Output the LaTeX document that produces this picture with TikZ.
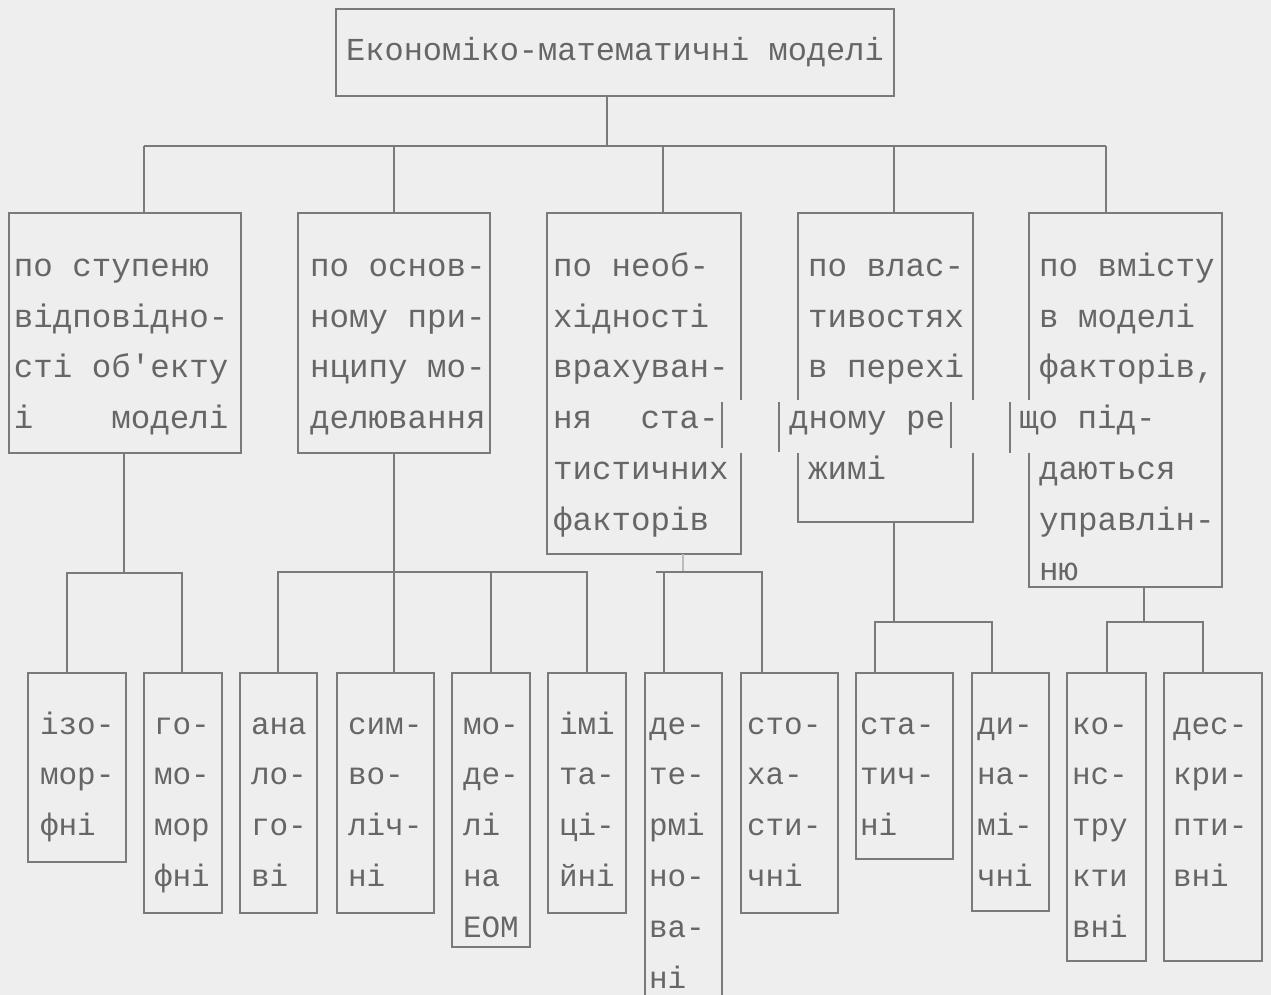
\documentclass[tikz,border=0pt]{standalone}
\usepackage{fontspec}
\setmainfont{Liberation Mono}
\usetikzlibrary{calc}

\definecolor{paper}{HTML}{EEEEEE}
\definecolor{ink}{HTML}{666666}
\definecolor{rulegray}{HTML}{7A7A7A}

\newcommand{\cellbox}[5]{\parbox[c][#2][t]{#1}{\setlength{\leftskip}{#3}\rule{0pt}{#4}#5}}

\begin{document}
\begin{tikzpicture}[x=1pt, y=-1pt,
    blk/.style={draw=rulegray, line width=2.6pt, anchor=north west, inner sep=0pt, outer sep=0pt, text=ink},
    lone/.style={blk, font=\fontsize{32.5}{50.7}\selectfont},
    ltwo/.style={blk, font=\fontsize{31}{50.8}\selectfont},
    open/.style={lone, draw=none},
    link/.style={draw=rulegray, line width=2.6pt}]
\path[use as bounding box, fill=paper] (0,0) rectangle (1271,995);
\clip (0,0) rectangle (1271,995);

\node[blk, minimum width=558pt, minimum height=87pt, font=\fontsize{32}{38}\selectfont] (root) at (336,9) {Економіко-математичні моделі};

\node[lone] (b1) at (9,213) {\cellbox{232pt}{240pt}{5pt}{63.5pt}{по ступеню\\відповідно-\\сті об\textquotesingle екту\\і\hspace*{2.4em}моделі}};
\node[lone] (b2) at (298,213) {\cellbox{192pt}{240pt}{12pt}{63.5pt}{по основ-\\ному при-\\нципу мо-\\делювання}};
\node[open] (b3) at (547,213) {\cellbox{194pt}{341pt}{6pt}{63.5pt}{по необ-\\хідності\\врахуван-\\ня\hspace*{1.5em}ста-\\тистичних\\факторів}};
\node[open] (b4) at (798,213) {\cellbox{175pt}{309pt}{10pt}{63.5pt}{по влас-\\тивостях\\в перехі\\\hspace*{-19pt}дному ре\\жимі}};
\node[open] (b5) at (1029,213) {\cellbox{193pt}{374pt}{10pt}{63.5pt}{по вмісту\\в моделі\\факторів,\\\hspace*{-20pt}що під-\\даються\\управлін-\\ню}};

\node[ltwo] (izo) at (28,673) {\cellbox{98pt}{189pt}{12pt}{61pt}{ізо-\\мор-\\фні}};
\node[ltwo] (gomo) at (144,673) {\cellbox{78pt}{240pt}{10pt}{61pt}{го-\\мо-\\мор\\фні}};
\node[ltwo] (ana) at (240,673) {\cellbox{77pt}{240pt}{11pt}{61pt}{ана\\ло-\\го-\\ві}};
\node[ltwo] (sym) at (337,673) {\cellbox{97pt}{240pt}{11pt}{61pt}{сим-\\во-\\ліч-\\ні}};
\node[ltwo] (eom) at (452,673) {\cellbox{78pt}{274pt}{11pt}{61pt}{мо-\\де-\\лі\\на\\ЕОМ}};
\node[ltwo] (imi) at (548,673) {\cellbox{78pt}{240pt}{11pt}{61pt}{імі\\та-\\ці-\\йні}};
\node[ltwo] (det) at (645,673) {\cellbox{77pt}{332pt}{4pt}{61pt}{де-\\те-\\рмі\\но-\\ва-\\ні}};
\node[ltwo] (sto) at (741,673) {\cellbox{97pt}{240pt}{6pt}{61pt}{сто-\\ха-\\сти-\\чні}};
\node[ltwo] (stat) at (856,673) {\cellbox{97pt}{186pt}{4pt}{61pt}{ста-\\тич-\\ні}};
\node[ltwo] (dyn) at (972,673) {\cellbox{77pt}{238pt}{5pt}{61pt}{ди-\\на-\\мі-\\чні}};
\node[ltwo] (kons) at (1067,673) {\cellbox{79pt}{288pt}{5pt}{61pt}{ко-\\нс-\\тру\\кти\\вні}};
\node[ltwo] (desc) at (1164,673) {\cellbox{98pt}{288pt}{9pt}{61pt}{дес-\\кри-\\пти-\\вні}};

% borders of the typed boxes, with the shifted row
\draw[link] ($(b3.north east)+(0,187)$) -- (b3.north east) -- (b3.north west) -- (b3.south west) -- (b3.south east) -- ($(b3.north east)+(0,240)$);
\draw[link] ($(b4.north west)+(0,187)$) -- (b4.north west) -- (b4.north east) -- ($(b4.north east)+(0,187)$);
\draw[link] ($(b4.north west)+(0,240)$) -- (b4.south west) -- (b4.south east) -- ($(b4.north east)+(0,240)$);
\draw[link] ($(b5.north west)+(0,187)$) -- (b5.north west) -- (b5.north east) -- (b5.south east) -- (b5.south west) -- ($(b5.north west)+(0,240)$);
\draw[link] ($(b3.north east)+(-19,189)$) -- ++(0,46);
\draw[link] ($(b4.north west)+(-19,189)$) -- ++(0,50);
\draw[link] ($(b4.north east)+(-22,189)$) -- ++(0,46);
\draw[link] ($(b5.north west)+(-19,189)$) -- ++(0,51);

% junctions
\coordinate (j0) at (607,146);
\coordinate (d1) at (144,146);
\coordinate (d2) at (394,146);
\coordinate (d3) at (663,146);
\coordinate (d4) at (894,146);
\coordinate (d5) at (1106,146);
\coordinate (g1) at (124,573);
\coordinate (e11) at (67,573);
\coordinate (e12) at (182,573);
\coordinate (e21) at (278,572);
\coordinate (e22) at (394,572);
\coordinate (e23) at (491,572);
\coordinate (e24) at (587,572);
\coordinate (e30) at (683,572);
\coordinate (e31) at (664,572);
\coordinate (e32) at (762,572);
\coordinate (e41) at (875,622);
\coordinate (e42) at (894,622);
\coordinate (e43) at (992,622);
\coordinate (e51) at (1107,622);
\coordinate (e52) at (1144,622);
\coordinate (e53) at (1203,622);

\draw[link] (root.south -| j0) -- (j0);
\draw[link] (d1) -- (d5);
\foreach \n in {1,...,5}
  \draw[link] (d\n) -- (b\n.north -| d\n);

\draw[link] (b1.south -| g1) -- (g1);
\draw[link] (izo.north -| e11) -- (e11) -- (e12) -- (gomo.north -| e12);

\draw[link] (b2.south -| e22) -- (sym.north -| e22);
\draw[link] (ana.north -| e21) -- (e21) -- (e24) -- (imi.north -| e24);
\draw[link] (e23) -- (eom.north -| e23);

\draw[link, draw=rulegray!50] (b3.south -| e30) -- (e30);
\draw[link] ([xshift=-8pt]e31) -- (e32) -- (sto.north -| e32);
\draw[link] (e31) -- (det.north -| e31);

\draw[link] (b4.south -| e42) -- (e42);
\draw[link] (stat.north -| e41) -- (e41) -- (e43) -- (dyn.north -| e43);

\draw[link] (b5.south -| e52) -- (e52);
\draw[link] (kons.north -| e51) -- (e51) -- (e53) -- (desc.north -| e53);
\end{tikzpicture}
\end{document}
